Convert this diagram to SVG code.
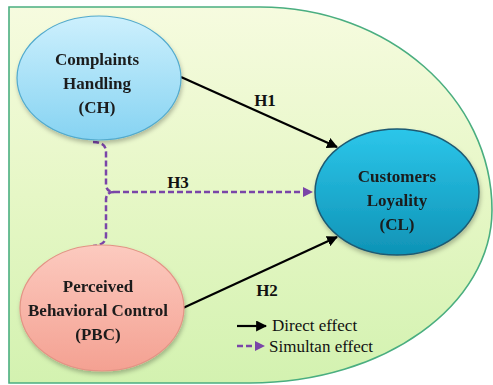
<svg xmlns="http://www.w3.org/2000/svg" width="493" height="385" viewBox="0 0 493 385">
<defs>
<linearGradient id="bg" x1="0" y1="0" x2="0" y2="1">
<stop offset="0" stop-color="#f6fbdf"/>
<stop offset="0.5" stop-color="#e6f7c6"/>
<stop offset="1" stop-color="#d3f2b0"/>
</linearGradient>
<linearGradient id="gCH" x1="0" y1="0" x2="0" y2="1">
<stop offset="0" stop-color="#cdf0fd"/>
<stop offset="1" stop-color="#86d3f2"/>
</linearGradient>
<linearGradient id="gCL" x1="0" y1="0" x2="0" y2="1">
<stop offset="0" stop-color="#2cc6ea"/>
<stop offset="1" stop-color="#0f93b6"/>
</linearGradient>
<linearGradient id="gPBC" x1="0" y1="0" x2="0" y2="1">
<stop offset="0" stop-color="#fccabf"/>
<stop offset="1" stop-color="#f4a192"/>
</linearGradient>
<filter id="sh" x="-20%" y="-20%" width="140%" height="150%">
<feDropShadow dx="1" dy="3" stdDeviation="2" flood-color="#000" flood-opacity="0.25"/>
</filter>
<marker id="ab" viewBox="0 0 10 10" refX="9" refY="5" markerWidth="5" markerHeight="5" orient="auto" markerUnits="strokeWidth">
<path d="M0,0 L10,5 L0,10 z" fill="#000"/>
</marker>
<marker id="ap" viewBox="0 0 10 10" refX="9" refY="5" markerWidth="4" markerHeight="4" orient="auto" markerUnits="strokeWidth">
<path d="M0,0 L10,5 L0,10 z" fill="#7a45a8"/>
</marker>
</defs>
<style>
.nt{font-family:"Liberation Serif","Times New Roman",serif;font-weight:bold;font-size:17px;fill:#1a1a1a;text-anchor:middle}
.lb{font-family:"Liberation Serif","Times New Roman",serif;font-weight:bold;font-size:17px;fill:#111;text-anchor:middle}
.lg{font-family:"Liberation Serif","Times New Roman",serif;font-size:17px;fill:#111}
.direct{fill:none;stroke:#000;stroke-width:2.2}
.sim{fill:none;stroke:#7a45a8;stroke-width:2.5;stroke-dasharray:6 3}
</style>
<g id="background">
<path d="M9,7 H260 C388,7 492,98 492,210 C492,305 384,383 250,383 H9 Z" fill="url(#bg)" stroke="#4aae80" stroke-width="1.6"/>
</g>
<g id="connectors">
<path class="direct" d="M181,77 L337,147" marker-end="url(#ab)"/>
<path class="direct" d="M183,308 L337,237" marker-end="url(#ab)"/>
<path class="sim" d="M93,142 Q106,142 106,152 V184 Q106,192 114,192"/>
<path class="sim" d="M114,192 Q106,192 106,200 V236 Q106,245 93,246"/>
<path class="sim" d="M114,192 H312" marker-end="url(#ap)"/>
<text class="lb" x="265" y="106">H1</text>
<text class="lb" x="267" y="296">H2</text>
<text class="lb" x="178" y="188">H3</text>
</g>
<g id="CH" filter="url(#sh)">
<ellipse cx="99" cy="78" rx="82" ry="62" fill="url(#gCH)" stroke="#52aacd" stroke-width="1.2"/>
<text class="nt" x="97" y="65">Complaints</text>
<text class="nt" x="97" y="89">Handling</text>
<text class="nt" x="97" y="113">(CH)</text>
</g>
<g id="CL" filter="url(#sh)">
<ellipse cx="397" cy="192" rx="82" ry="63" fill="url(#gCL)" stroke="#1d5a72" stroke-width="1.5"/>
<text class="nt" x="397" y="182">Customers</text>
<text class="nt" x="397" y="206">Loyality</text>
<text class="nt" x="397" y="230">(CL)</text>
</g>
<g id="PBC" filter="url(#sh)">
<ellipse cx="102" cy="308" rx="82" ry="63" fill="url(#gPBC)" stroke="#e39385" stroke-width="1.2"/>
<text class="nt" x="98" y="292">Perceived</text>
<text class="nt" x="98" y="316">Behavioral Control</text>
<text class="nt" x="98" y="340">(PBC)</text>
</g>
<g id="legend">
<path class="direct" d="M237,326 H266" marker-end="url(#ab)"/>
<text class="lg" x="272" y="331">Direct effect</text>
<path class="sim" d="M237,346 H264" marker-end="url(#ap)"/>
<text class="lg" x="269" y="352">Simultan effect</text>
</g>
</svg>
